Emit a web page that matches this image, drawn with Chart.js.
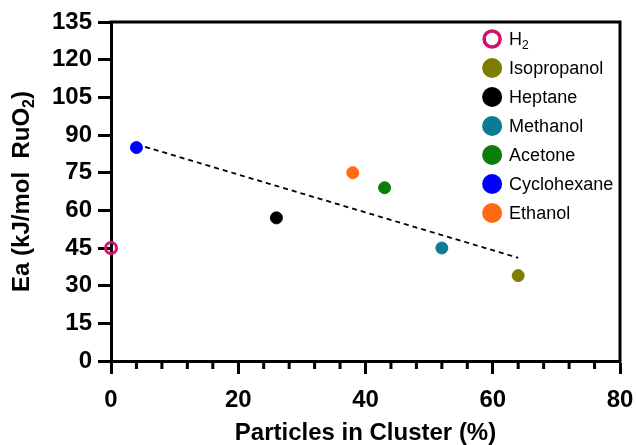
<!DOCTYPE html>
<html>
<head>
<meta charset="utf-8">
<script src="https://cdn.jsdelivr.net/npm/chart.js@4/dist/chart.umd.min.js"></script>
<style>
  html, body { margin: 0; padding: 0; background: #fff; }
  #wrap { width: 636px; height: 445px; }
</style>
</head>
<body>
<div id="wrap"><canvas id="chart"></canvas></div>
<script>
// Solvents, in legend order ([text, subscript])
const solvents = [['H', '2'], ['Isopropanol', ''], ['Heptane', ''], ['Methanol', ''], ['Acetone', ''], ['Cyclohexane', ''], ['Ethanol', '']];
const clusterPct = [0, 64, 26, 52, 43, 4, 38];            // Particles in cluster (%)
const activationEnergy = [45, 34, 57, 45, 69, 85, 75];    // Ea (kJ/mol RuO2)
const pointColours = ['#d3106a', '#7f7d00', '#000000', '#0b7d93', '#0a7d0a', '#0000ff', '#ff6a13'];
const hollow = [true, false, false, false, false, false, false];

// Dashed trend line end points
const trendX = [4, 64];
const trendY = [86.3, 41.1];

// Axis ticks
const xTickValues = [0, 20, 40, 60, 80];
const xMinorTickValues = [4, 8, 12, 16, 24, 28, 32, 36, 44, 48, 52, 56, 64, 68, 72, 76];
const yTickValues = [0, 15, 30, 45, 60, 75, 90, 105, 120, 135];

// Axis titles ([text, subscript, rest])
const xTitle = ['Particles in Cluster (%)', '', ''];
const yTitle = ['Ea (kJ/mol  RuO', '2', ')'];

const fontFamily = '"Liberation Sans", Arial, Helvetica, sans-serif';

// Build one dataset per solvent
const datasets = solvents.map((name, i) => ({
  label: name[0] + name[1],
  data: [{x: clusterPct[i], y: activationEnergy[i]}],
  pointRadius: hollow[i] ? 5.5 : 6,
  pointBorderWidth: hollow[i] ? 3 : 1,
  pointBorderColor: pointColours[i],
  pointBackgroundColor: hollow[i] ? 'rgba(0,0,0,0)' : pointColours[i],
  clip: false
}));
datasets.push({
  label: 'trend',
  type: 'line',
  data: trendX.map((x, i) => ({x: x, y: trendY[i]})),
  borderColor: '#000',
  borderWidth: 1.8,
  borderDash: [5, 4],
  pointRadius: 0,
  fill: false
});

// Draws text with an optional subscript, returns end x
function textWithSub(ctx, parts, x, y, size, weight) {
  ctx.font = weight + ' ' + size + 'px ' + fontFamily;
  ctx.fillText(parts[0], x, y);
  x += ctx.measureText(parts[0]).width;
  if (parts[1]) {
    ctx.font = weight + ' ' + Math.round(size * 0.65) + 'px ' + fontFamily;
    ctx.fillText(parts[1], x, y + size * 0.3);
    x += ctx.measureText(parts[1]).width;
  }
  if (parts[2]) {
    ctx.font = weight + ' ' + size + 'px ' + fontFamily;
    ctx.fillText(parts[2], x, y);
    x += ctx.measureText(parts[2]).width;
  }
  return x;
}

// Centred title, optionally rotated
function centredTitle(ctx, parts, cx, cy, rotate) {
  ctx.save();
  ctx.translate(cx, cy);
  if (rotate) ctx.rotate(-Math.PI / 2);
  ctx.globalAlpha = 0;
  const w = textWithSub(ctx, parts, 0, 0, 24, 'bold');
  ctx.globalAlpha = 1;
  textWithSub(ctx, parts, -w / 2, 0, 24, 'bold');
  ctx.restore();
}

// Top/right frame, minor x ticks, axis titles and legend
const extras = {
  id: 'extras',
  afterDraw(chart) {
    const ctx = chart.ctx;
    const area = chart.chartArea;
    const xs = chart.scales.x;
    ctx.save();
    ctx.strokeStyle = '#000';
    ctx.lineWidth = 3;
    ctx.beginPath();
    ctx.moveTo(area.left - 1.5, area.top);
    ctx.lineTo(area.right, area.top);
    ctx.lineTo(area.right, area.bottom + 1.5);
    ctx.stroke();

    // minor ticks
    ctx.beginPath();
    xMinorTickValues.forEach(v => {
      const px = xs.getPixelForValue(v);
      ctx.moveTo(px, area.bottom);
      ctx.lineTo(px, area.bottom + 8);
    });
    ctx.stroke();

    // axis titles
    ctx.fillStyle = '#000';
    ctx.textBaseline = 'middle';
    ctx.textAlign = 'left';
    centredTitle(ctx, yTitle, 22, (area.top + area.bottom) / 2, true);
    centredTitle(ctx, xTitle, (area.left + area.right) / 2, 433, false);

    // legend
    const mx = xs.getPixelForValue(59.9);
    let y = area.top + 17;
    solvents.forEach((name, i) => {
      ctx.beginPath();
      if (hollow[i]) {
        ctx.arc(mx, y, 8, 0, Math.PI * 2);
        ctx.lineWidth = 3.5;
        ctx.strokeStyle = pointColours[i];
        ctx.stroke();
      } else {
        ctx.arc(mx, y, 10, 0, Math.PI * 2);
        ctx.fillStyle = pointColours[i];
        ctx.fill();
      }
      ctx.fillStyle = '#000';
      textWithSub(ctx, name, mx + 17, y + 1, 18, 'normal');
      y += 29;
    });
    ctx.restore();
  }
};

new Chart(document.getElementById('chart'), {
  type: 'scatter',
  data: { datasets: datasets },
  options: {
    responsive: true,
    maintainAspectRatio: false,
    animation: false,
    layout: { padding: { top: 22, right: 16, left: 0, bottom: 0 } },
    plugins: { legend: { display: false }, tooltip: { enabled: false } },
    scales: {
      x: {
        type: 'linear',
        min: 0, max: 80,
        afterBuildTicks: s => { s.ticks = xTickValues.map(v => ({value: v})); },
        afterFit: s => { s.height = 84; s.paddingLeft = 0; s.paddingRight = 0; },
        border: { color: '#000', width: 3 },
        grid: { drawOnChartArea: false, color: '#000', tickColor: '#000', tickLength: 13, tickWidth: 3 },
        ticks: { color: '#000', padding: 12, maxRotation: 0, font: { family: fontFamily, size: 24, weight: 'bold' } }
      },
      y: {
        type: 'linear',
        min: 0, max: 135,
        afterBuildTicks: s => { s.ticks = yTickValues.map(v => ({value: v})); },
        afterFit: s => { s.width = 111; s.paddingTop = 0; s.paddingBottom = 0; },
        border: { color: '#000', width: 3 },
        grid: { drawOnChartArea: false, color: '#000', tickColor: '#000', tickLength: 13, tickWidth: 3 },
        ticks: { color: '#000', padding: 6, font: { family: fontFamily, size: 24, weight: 'bold' } }
      }
    }
  },
  plugins: [extras]
});
</script>
</body>
</html>
